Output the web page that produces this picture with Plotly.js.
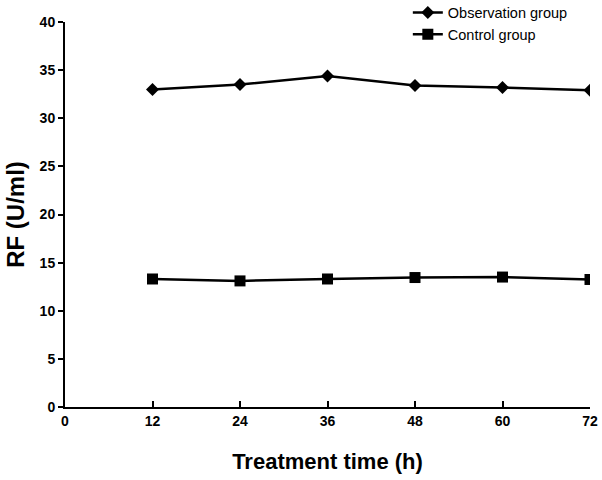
<!DOCTYPE html>
<html>
<head>
<meta charset="utf-8">
<script src="https://cdn.plot.ly/plotly-3.0.1.min.js"></script>
<style>html,body{margin:0;padding:0;background:#fff;}#chart{width:602px;height:480px;}</style>
</head>
<body>
<div id="chart"></div>
<script>
const timeHours = [12, 24, 36, 48, 60, 72];
const observationGroup = [33.0, 33.5, 34.4, 33.4, 33.2, 32.9];
const controlGroup = [13.3, 13.1, 13.3, 13.45, 13.5, 13.25];
const xTickVals = [0, 12, 24, 36, 48, 60, 72];
const yTickVals = [0, 5, 10, 15, 20, 25, 30, 35, 40];

const fontFam = 'Liberation Sans, Arial, sans-serif';

const traces = [
  {
    x: timeHours, y: observationGroup, name: 'Observation group',
    type: 'scatter', mode: 'lines+markers',
    line: {color: '#000', width: 2.5},
    marker: {symbol: 'diamond', size: 10, color: '#000'}
  },
  {
    x: timeHours, y: controlGroup, name: 'Control group',
    type: 'scatter', mode: 'lines+markers',
    line: {color: '#000', width: 2.5},
    marker: {symbol: 'square', size: 11, color: '#000'}
  }
];

const layout = {
  width: 602, height: 480,
  margin: {l: 65, r: 12, t: 22, b: 73, autoexpand: false},
  paper_bgcolor: '#fff', plot_bgcolor: '#fff',
  font: {family: fontFam, color: '#000'},
  showlegend: true,
  legend: {
    x: 0.653, xanchor: 'left', y: 1.066, yanchor: 'top',
    font: {family: fontFam, size: 14.5, color: '#000'},
    bgcolor: 'rgba(0,0,0,0)', tracegroupgap: 0
  },
  xaxis: {
    range: [0, 72], tickvals: xTickVals, ticktext: xTickVals.map(String),
    showgrid: false, zeroline: false, showline: true, linecolor: '#000', linewidth: 2,
    ticks: 'inside', ticklen: 6, tickwidth: 2, tickcolor: '#000',
    tickfont: {family: fontFam, size: 14, color: '#000', weight: 'bold'},
    title: {text: '<b>Treatment time (h)</b>', font: {family: fontFam, size: 22, color: '#000'}, standoff: 26}
  },
  yaxis: {
    range: [0, 40], tickvals: yTickVals, ticktext: yTickVals.map(String),
    showgrid: false, zeroline: false, showline: true, linecolor: '#000', linewidth: 2,
    ticks: 'outside', ticklen: 5, tickwidth: 2, tickcolor: '#000',
    tickfont: {family: fontFam, size: 14, color: '#000', weight: 'bold'},
    title: {text: '<b>RF (U/ml)</b>', font: {family: fontFam, size: 24, color: '#000'}, standoff: 8}
  }
};

Plotly.newPlot('chart', traces, layout, {displayModeBar: false, staticPlot: true});
</script>
</body>
</html>
